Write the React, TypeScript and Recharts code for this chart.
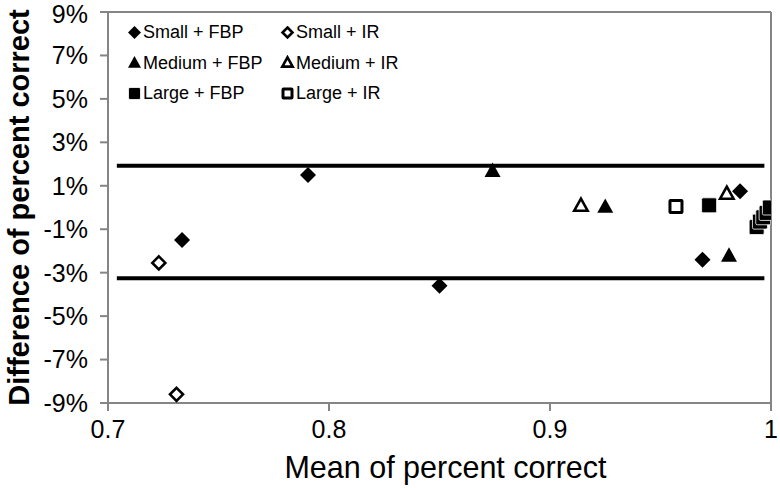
import React from 'react';
import { ScatterChart, Scatter, XAxis, YAxis, ReferenceLine } from 'recharts';

const smallFBP = [
  { x: 0.7335, y: -1.5 },
  { x: 0.7905, y: 1.5 },
  { x: 0.85, y: -3.6 },
  { x: 0.969, y: -2.4 },
  { x: 0.986, y: 0.75 },
];
const smallIR = [
  { x: 0.723, y: -2.55 },
  { x: 0.731, y: -8.6 },
];
const mediumFBP = [
  { x: 0.874, y: 1.7 },
  { x: 0.925, y: 0.05 },
  { x: 0.981, y: -2.2 },
];
const mediumIR = [
  { x: 0.914, y: 0.1 },
  { x: 0.98, y: 0.65 },
];
const largeFBP = [
  { x: 0.972, y: 0.1 },
  { x: 0.9935, y: -0.9 },
  { x: 0.995, y: -0.65 },
  { x: 0.9965, y: -0.45 },
  { x: 0.998, y: -0.25 },
  { x: 0.9995, y: 0.0 },
];
const largeIR = [{ x: 0.957, y: 0.05 }];

const upperLimit = 1.92;
const lowerLimit = -3.26;
const limitStart = 0.704;
const limitEnd = 0.997;

const xTicks = [0.7, 0.8, 0.9, 1];
const yTicks = [-9, -7, -5, -3, -1, 1, 3, 5, 7, 9];

const legendItems = [
  { name: 'Small + FBP', kind: 'diamond', filled: true },
  { name: 'Small + IR', kind: 'diamond', filled: false },
  { name: 'Medium + FBP', kind: 'triangle', filled: true },
  { name: 'Medium + IR', kind: 'triangle', filled: false },
  { name: 'Large + FBP', kind: 'square', filled: true },
  { name: 'Large + IR', kind: 'square', filled: false },
];

const FONT = '"Liberation Sans", Arial, sans-serif';
const AXIS = '#858585';

const markerPath = (kind: string, filled: boolean, cx: number, cy: number, s: number) => {
  if (kind === 'diamond') {
    const h = filled ? s : s - 1.5;
    return (
      <polygon
        points={`${cx},${cy - h} ${cx + h},${cy} ${cx},${cy + h} ${cx - h},${cy}`}
        fill={filled ? '#000' : '#fff'}
        stroke="#000"
        strokeWidth={filled ? 0 : 2.6}
      />
    );
  }
  if (kind === 'triangle') {
    const w = filled ? s : s - 1.3;
    return (
      <polygon
        points={`${cx},${cy - w} ${cx + w},${cy + w * 0.8} ${cx - w},${cy + w * 0.8}`}
        fill={filled ? '#000' : '#fff'}
        stroke="#000"
        strokeWidth={filled ? 0 : 2.6}
        strokeLinejoin="miter"
      />
    );
  }
  const h = filled ? s - 0.5 : s - 2;
  return (
    <rect
      x={cx - h}
      y={cy - h}
      width={2 * h}
      height={2 * h}
      rx={filled ? 1.5 : 0.5}
      fill={filled ? '#000' : '#fff'}
      stroke={filled ? '#fff' : '#000'}
      strokeWidth={filled ? 0.8 : 3}
    />
  );
};

const makeShape = (kind: string, filled: boolean) => (props: any) => {
  const { cx, cy } = props;
  return <g>{markerPath(kind, filled, cx, cy, 8)}</g>;
};

const LegendBox = () => (
  <div
    style={{
      position: 'absolute',
      left: 127,
      top: 17,
      display: 'grid',
      gridTemplateColumns: '153px 150px',
      fontFamily: FONT,
      fontSize: 18,
      lineHeight: '30.5px',
      color: '#000',
    }}
  >
    {legendItems.map((it) => (
      <div key={it.name} style={{ display: 'flex', alignItems: 'center', whiteSpace: 'nowrap' }}>
        <svg width={15} height={15} style={{ marginRight: 1 }}>
          {markerPath(it.kind, it.filled, 7.5, 7.5, 6.5)}
        </svg>
        <span>{it.name}</span>
      </div>
    ))}
  </div>
);

const YTitle = (props: any) => {
  const vb = props.viewBox || { x: 0, y: 12, width: 108, height: 391 };
  const cx = vb.x + 19;
  const cy = vb.y + vb.height / 2;
  return (
    <text
      x={cx}
      y={cy}
      transform={`rotate(-90 ${cx} ${cy})`}
      textAnchor="middle"
      dominantBaseline="central"
      fontSize={29}
      fontWeight="bold"
      fontFamily={FONT}
      fill="#000"
    >
      Difference of percent correct
    </text>
  );
};

const XTitle = (props: any) => {
  const vb = props.viewBox || { x: 108, y: 403, width: 663, height: 85 };
  const cx = vb.x + vb.width / 2 + 6;
  return (
    <text x={cx} y={vb.y + 75} textAnchor="middle" fontSize={30.5} fontFamily={FONT} fill="#000">
      Mean of percent correct
    </text>
  );
};

export default function App() {
  return (
    <div style={{ position: 'absolute', left: 0, top: 0, width: 780, height: 488, background: '#fff' }}>
      <ScatterChart width={780} height={488} margin={{ top: 12, right: 9, bottom: 0, left: 0 }}>
        <XAxis
          type="number"
          dataKey="x"
          domain={[0.7, 1]}
          ticks={xTicks}
          tickFormatter={(v: number) => String(v)}
          height={85}
          stroke={AXIS}
          strokeWidth={2}
          tickSize={8}
          tickMargin={9}
          tick={{ fill: '#000', fontSize: 25, fontFamily: FONT }}
          allowDataOverflow
          label={<XTitle />}
        />
        <YAxis
          type="number"
          dataKey="y"
          domain={[-9, 9]}
          ticks={yTicks}
          tickFormatter={(v: number) => `${v}%`}
          width={108}
          stroke={AXIS}
          strokeWidth={2}
          tickSize={8}
          tickMargin={12}
          tick={{ fill: '#000', fontSize: 25, fontFamily: FONT }}
          allowDataOverflow
          label={<YTitle />}
        />
        <ReferenceLine y={9} stroke={AXIS} strokeWidth={2} />
        <ReferenceLine x={1} stroke={AXIS} strokeWidth={2} />
        <ReferenceLine
          segment={[
            { x: limitStart, y: upperLimit },
            { x: limitEnd, y: upperLimit },
          ]}
          stroke="#000"
          strokeWidth={4}
        />
        <ReferenceLine
          segment={[
            { x: limitStart, y: lowerLimit },
            { x: limitEnd, y: lowerLimit },
          ]}
          stroke="#000"
          strokeWidth={4}
        />
        <Scatter name="Small + FBP" data={smallFBP} shape={makeShape('diamond', true)} isAnimationActive={false} />
        <Scatter name="Small + IR" data={smallIR} shape={makeShape('diamond', false)} isAnimationActive={false} />
        <Scatter name="Medium + FBP" data={mediumFBP} shape={makeShape('triangle', true)} isAnimationActive={false} />
        <Scatter name="Medium + IR" data={mediumIR} shape={makeShape('triangle', false)} isAnimationActive={false} />
        <Scatter name="Large + IR" data={largeIR} shape={makeShape('square', false)} isAnimationActive={false} />
        <Scatter name="Large + FBP" data={largeFBP} shape={makeShape('square', true)} isAnimationActive={false} />
      </ScatterChart>
      <LegendBox />
    </div>
  );
}
